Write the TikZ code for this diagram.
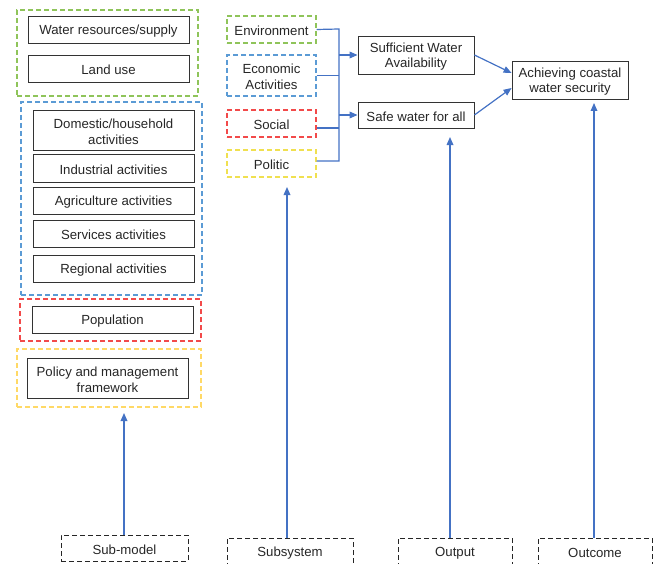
\documentclass[tikz,border=0pt]{standalone}
\usepackage{fontspec}
\setmainfont{Liberation Sans}
\usetikzlibrary{arrows.meta,calc}
\definecolor{cgreen}{HTML}{8FC45A}
\definecolor{cblue}{HTML}{5B9BD5}
\definecolor{cred}{HTML}{F24A4A}
\definecolor{cyellow}{HTML}{FFD966}
\definecolor{cyellow2}{HTML}{F0E050}
\definecolor{cline}{HTML}{4472C4}
\newcommand\mybox[7]{\node[#1, minimum width={(#5-#3)*0.75pt}, minimum height={(#6-#4)*0.75pt}, label={[txt]center:{#7}}] (#2) at ({(#3+#5)/2},{(#4+#6)/2}) {};}
\tikzset{
  every node/.style={inner sep=0pt},
  txt/.style={font=\fontsize{9.9}{11.8}\selectfont, align=center, text=black!85, yshift=-1.2pt},
  solidbox/.style={draw=black!80, line width=0.65pt},
  grp/.style={draw, line width=0.9pt, dash pattern=on 3.5pt off 2.5pt},
  refbox/.style={draw=black!85, line width=0.75pt, dash pattern=on 3.5pt off 2.5pt},
  conn/.style={draw=cline, line width=0.9pt},
  arr/.style={conn, -{Triangle[length=6pt,width=5pt]}},
}
\begin{document}
\begin{tikzpicture}[x=0.75pt,y=-0.75pt]
\useasboundingbox (0,0) rectangle (659,563);
% left groups
\mybox{grp, draw=cgreen}{g1}{17}{10}{198}{96}{}
\mybox{grp, draw=cblue}{g2}{21}{102}{202}{295}{}
\mybox{grp, draw=cred}{g3}{20}{299}{201}{341}{}
\mybox{grp, draw=cyellow}{g4}{17}{349}{201}{407}{}
\mybox{solidbox}{wr}{28}{16}{189}{43}{Water resources/supply}
\mybox{solidbox}{lu}{28}{55}{189}{82}{Land use}
\mybox{solidbox}{dom}{33}{110}{194}{150}{Domestic/household\\activities}
\mybox{solidbox}{ind}{33}{154}{194}{182}{Industrial activities}
\mybox{solidbox}{agr}{33}{187}{194}{214}{Agriculture activities}
\mybox{solidbox}{ser}{33}{220}{194}{247}{Services activities}
\mybox{solidbox}{reg}{33}{255}{194}{282}{Regional activities}
\mybox{solidbox}{pop}{32}{306}{193}{333}{Population}
\mybox{solidbox}{pol}{27}{358}{188}{398}{Policy and management\\framework}
% subsystems
\mybox{grp, draw=cgreen}{env}{227}{16}{316}{43}{Environment}
\mybox{grp, draw=cblue}{eco}{227}{55}{316}{96}{Economic\\Activities}
\mybox{grp, draw=cred}{soc}{227}{110}{316}{137}{Social}
\mybox{grp, draw=cyellow2}{polt}{227}{150}{316}{177}{Politic}
% outputs
\mybox{solidbox}{suf}{358}{36}{474}{74}{Sufficient Water\\Availability}
\mybox{solidbox}{saf}{358}{102}{474}{128}{Safe water for all}
\mybox{solidbox}{ach}{512}{61}{628}{99}{Achieving coastal\\water security}
% bottom labels
\mybox{refbox}{subm}{61}{535}{188}{561}{Sub-model}
\mybox{refbox}{subs}{227}{538}{353}{565}{Subsystem}
\mybox{refbox}{outp}{398}{538}{512}{565}{Output}
\mybox{refbox}{outc}{538}{538}{652}{565}{Outcome}
% junction
\coordinate (jt) at (339,29);
\coordinate (jb) at (339,161);
\draw[conn] (env.east) -- (jt) -- (jb) -- (polt.east |- jb);
\draw[conn] (eco.east) -- (eco.east -| jt);
\draw[conn] (soc.east |- 0,128) -- (jt |- 0,128);
\draw[arr] (jt |- suf.west) -- (suf.west);
\draw[arr] (jt |- saf.west) -- (saf.west);
\draw[arr] (suf.east) -- ($(ach.west)+(0,-7)$);
\draw[arr] (saf.east) -- ($(ach.west)+(0,8)$);
% vertical arrows
\coordinate (t1) at (124,413);
\coordinate (t2) at (287,187);
\coordinate (t3) at (450,137);
\coordinate (t4) at (594,103);
\draw[arr] (t1 |- subm.north) -- (t1);
\draw[arr] (t2 |- subs.north) -- (t2);
\draw[arr] (t3 |- outp.north) -- (t3);
\draw[arr] (t4 |- outc.north) -- (t4);
\end{tikzpicture}
\end{document}
